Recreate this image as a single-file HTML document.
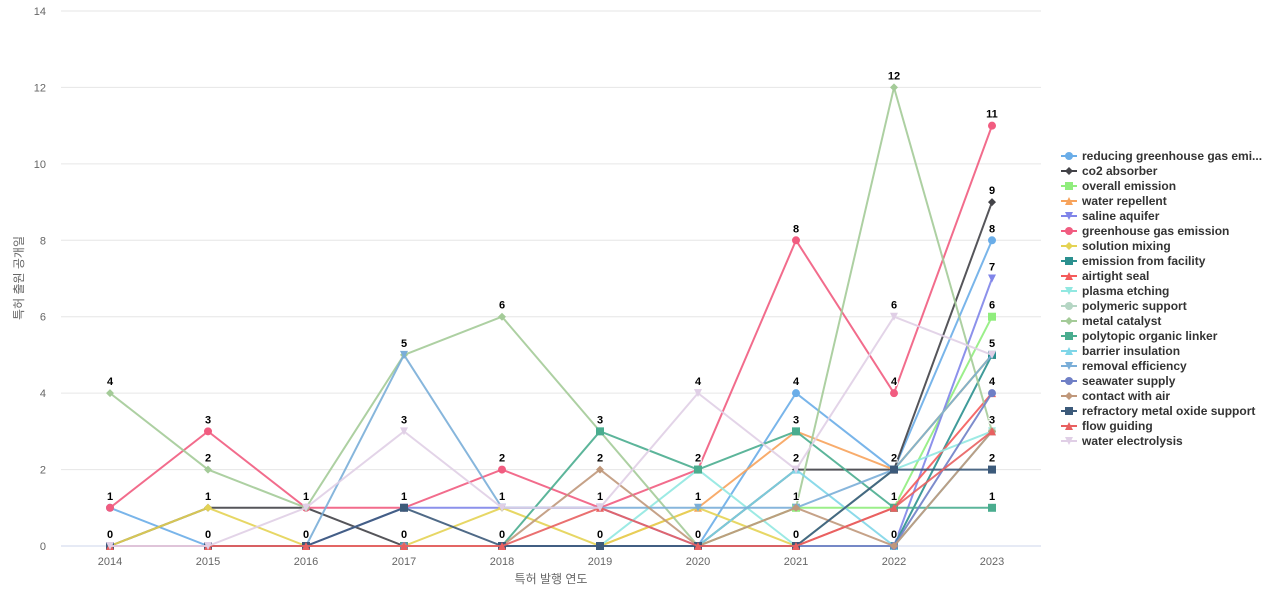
<!DOCTYPE html><html><head><meta charset="utf-8"><style>body{margin:0;background:#fff;font-family:"Liberation Sans","Noto Sans CJK KR",sans-serif}</style></head><body>
<svg id="c" width="1280" height="600" xmlns="http://www.w3.org/2000/svg" font-family="Liberation Sans, Noto Sans CJK KR, sans-serif"></svg>
<script>
const S=[
["reducing greenhouse gas emi...","#6aade8","o",[1,0,0,0,0,0,0,4,2,8]],
["co2 absorber","#434348","d",[0,1,1,0,0,0,0,2,2,9]],
["overall emission","#90ed7d","s",[0,0,0,0,0,0,0,1,1,6]],
["water repellent","#f7a35c","t",[0,0,0,0,0,0,1,3,2,5]],
["saline aquifer","#8085e9","v",[0,0,0,1,1,1,0,0,0,7]],
["greenhouse gas emission","#f15c80","o",[1,3,1,1,2,1,2,8,4,11]],
["solution mixing","#e4d354","d",[0,1,0,0,1,0,1,0,2,5]],
["emission from facility","#2b908f","s",[0,0,0,0,0,0,0,0,0,5]],
["airtight seal","#f45b5b","t",[0,0,0,0,0,0,0,0,1,4]],
["plasma etching","#91e8e1","v",[0,0,0,0,0,0,2,0,2,3]],
["polymeric support","#b5d6c4","o",[0,0,0,0,0,0,0,0,0,3]],
["metal catalyst","#a4cb98","d",[4,2,1,5,6,3,0,1,12,3]],
["polytopic organic linker","#4aad8f","s",[0,0,0,0,0,3,2,3,1,1]],
["barrier insulation","#7fd6e8","t",[0,0,0,0,0,0,0,2,0,3]],
["removal efficiency","#7aaed8","v",[0,0,0,5,1,1,1,1,2,5]],
["seawater supply","#6f7fc6","o",[0,0,0,0,0,0,0,0,0,4]],
["contact with air","#c0987b","d",[0,0,0,0,0,2,0,1,0,3]],
["refractory metal oxide support","#3c5a7a","s",[0,0,0,1,0,0,0,0,2,2]],
["flow guiding","#e86060","t",[0,0,0,0,0,1,0,0,1,3]],
["water electrolysis","#e0cfe6","v",[0,0,1,3,1,1,4,2,6,5]]];
const X=i=>110+98*i,Y=v=>546-v*38.214;
let h='';
for(let v=0;v<=14;v+=2){h+=`<line x1="61" x2="1041" y1="${Y(v)}" y2="${Y(v)}" stroke="${v?'#e6e6e6':'#ccd6eb'}"/><text x="46" y="${Y(v)+4}" font-size="11" fill="#666" text-anchor="end">${v}</text>`}
for(let i=0;i<10;i++)h+=`<text x="${X(i)}" y="565" font-size="11" fill="#666" text-anchor="middle">${2014+i}</text>`;
h+=`<text x="551" y="583" font-size="12" fill="#666" text-anchor="middle">특허 발행 연도</text>`;
h+=`<text transform="translate(23,278) rotate(-90)" font-size="12" fill="#666" text-anchor="middle">특허 출원 공개일</text>`;
function mk(t,x,y,c){if(t=='o')return`<circle cx="${x}" cy="${y}" r="4" fill="${c}"/>`;if(t=='s')return`<rect x="${x-4}" y="${y-4}" width="8" height="8" fill="${c}"/>`;if(t=='d')return`<path d="M${x} ${y-4}L${x+4} ${y}L${x} ${y+4}L${x-4} ${y}Z" fill="${c}"/>`;if(t=='t')return`<path d="M${x} ${y-4}L${x+4} ${y+4}L${x-4} ${y+4}Z" fill="${c}"/>`;return`<path d="M${x} ${y+4}L${x+4} ${y-4}L${x-4} ${y-4}Z" fill="${c}"/>`}
S.forEach(s=>{h+=`<polyline fill="none" stroke="${s[1]}" stroke-width="2" opacity="0.9" points="${s[3].map((v,i)=>X(i)+','+Y(v)).join(' ')}"/>`;s[3].forEach((v,i)=>h+=mk(s[2],X(i),Y(v),s[1]))});
for(let i=0;i<10;i++){const vs=[...new Set(S.map(s=>s[3][i]))];vs.forEach(v=>h+=`<text x="${X(i)}" y="${Y(v)-8}" font-size="11" font-weight="bold" fill="#000" text-anchor="middle" stroke="#fff" stroke-width="2" paint-order="stroke">${v}</text>`)}
S.forEach((s,k)=>{const y=156+k*15;h+=`<line x1="1061" x2="1077" y1="${y}" y2="${y}" stroke="${s[1]}" stroke-width="2"/>`+mk(s[2],1069,y,s[1])+`<text x="1082" y="${y+4}" font-size="12" font-weight="bold" fill="#333">${s[0]}</text>`});
document.getElementById('c').innerHTML=h;
</script></body></html>
